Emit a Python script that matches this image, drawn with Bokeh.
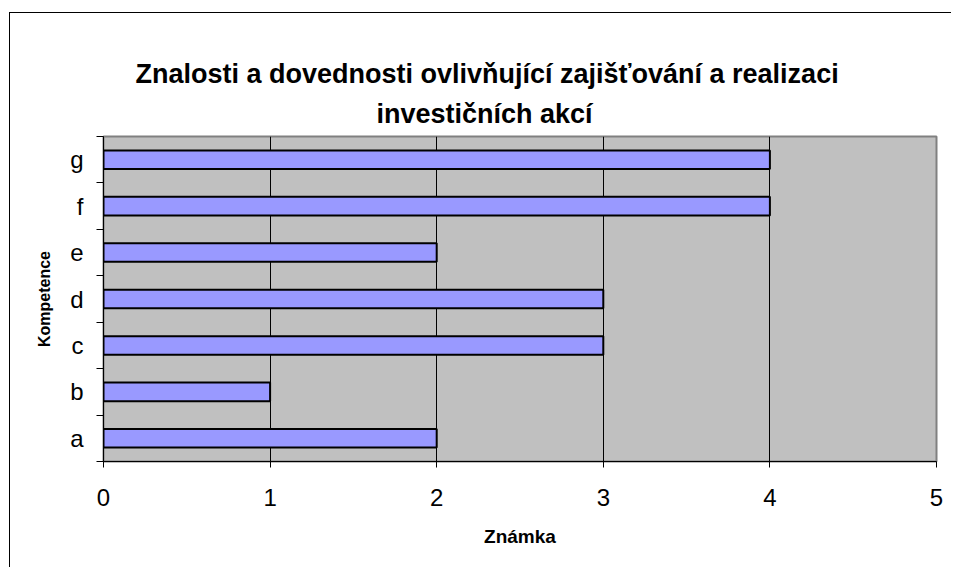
from bokeh.plotting import figure
from bokeh.models import FixedTicker, Range1d, ColumnDataSource, Title
from bokeh.embed import file_html
from bokeh.resources import INLINE

categories = ["a", "b", "c", "d", "e", "f", "g"]
values = [2, 1, 3, 3, 2, 4, 4]
x_ticks = [0, 1, 2, 3, 4, 5]
title_lines = ["Znalosti a dovednosti ovlivňující zajišťování a realizaci",
               "investičních akcí"]
x_title = "Známka"
y_title = "Kompetence"

pos = list(range(len(categories)))
src = ColumnDataSource(dict(y=pos, right=values, cat=categories))

FONT = "Liberation Sans"

p = figure(width=942, height=555, output_backend="svg", toolbar_location=None,
           x_range=Range1d(0, 5), y_range=Range1d(-0.5, len(categories) - 0.5),
           min_border_left=93, min_border_right=16, min_border_top=123, min_border_bottom=107)
p.styles = {"margin-left": "9px", "margin-top": "12px",
            "border-left": "1px solid black", "border-top": "1px solid black"}

p.background_fill_color = "#C0C0C0"
p.border_fill_color = "white"
p.outline_line_color = "#808080"
p.outline_line_width = 2

p.hbar(y="y", right="right", left=0, height=0.4, source=src,
       fill_color="#9999FF", line_color="black", line_width=2)

# x axis
p.xaxis.ticker = FixedTicker(ticks=x_ticks)
p.xaxis.axis_line_color = "black"
p.xaxis.major_tick_out = 6
p.xaxis.major_tick_in = 0
p.xaxis.minor_tick_line_color = None
p.xaxis.major_label_text_font = FONT
p.xaxis.major_label_text_font_size = "24px"
p.xaxis.major_label_text_color = "black"
p.xaxis.major_label_standoff = 21
p.xaxis.axis_label = x_title
p.xaxis.axis_label_text_font = FONT
p.xaxis.axis_label_text_font_style = "bold"
p.xaxis.axis_label_text_font_size = "19px"
p.xaxis.axis_label_text_color = "black"
p.xaxis.axis_label_standoff = 17

# y axis
boundaries = [i - 0.5 for i in range(len(categories) + 1)]
p.yaxis.ticker = FixedTicker(ticks=pos, minor_ticks=boundaries)
p.yaxis.major_label_overrides = {i: c for i, c in zip(pos, categories)}
p.yaxis.axis_line_color = "black"
p.yaxis.major_tick_line_color = None
p.yaxis.minor_tick_out = 7
p.yaxis.minor_tick_in = 0
p.yaxis.minor_tick_line_color = "black"
p.yaxis.major_label_text_font = FONT
p.yaxis.major_label_text_font_size = "24px"
p.yaxis.major_label_text_color = "black"
p.yaxis.major_label_standoff = 13
p.yaxis.axis_label = y_title
p.yaxis.axis_label_text_font = FONT
p.yaxis.axis_label_text_font_style = "bold"
p.yaxis.axis_label_text_font_size = "16px"
p.yaxis.axis_label_text_color = "black"
p.yaxis.axis_label_standoff = 14

p.xgrid.ticker = FixedTicker(ticks=x_ticks)
p.xgrid.grid_line_color = "black"
p.xgrid.grid_line_width = 1
p.ygrid.grid_line_color = None

# title: two lines, each roughly centred at page x~487 (frame left at page x~103)
for txt, off, so in [(title_lines[1], 273, 16), (title_lines[0], 32, 0)]:
    p.add_layout(Title(text=txt, align="left", offset=off, standoff=so,
                       text_font=FONT, text_font_size="27px", text_font_style="bold",
                       text_color="black"), "above")

open("out.html", "w").write(file_html(p, INLINE))
